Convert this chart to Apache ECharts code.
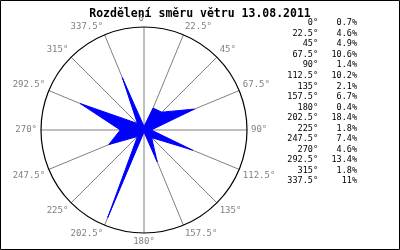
<!DOCTYPE html>
<html><head><meta charset="utf-8">
<script src="https://cdn.jsdelivr.net/npm/echarts@6/dist/echarts.min.js"></script>
<style>html,body{margin:0;padding:0;background:#fff}#c{width:400px;height:250px}</style>
</head><body><div id="c"></div>
<script>
var titleText = 'Rozdělení směru větru 13.08.2011';
var directions = [0, 22.5, 45, 67.5, 90, 112.5, 135, 157.5, 180, 202.5, 225, 247.5, 270, 292.5, 315, 337.5];
var percents = [0.7, 4.6, 4.9, 10.6, 1.4, 10.2, 2.1, 6.7, 0.4, 18.4, 1.8, 7.4, 4.6, 13.4, 1.8, 11];
var radiusMax = 20;

var chart = echarts.init(document.getElementById('c'), null, {renderer: 'canvas'});
var FONT = "'DejaVu Sans Mono', monospace";

var lineData = directions.map(function (d, i) { return [percents[i], d]; });
lineData.push([percents[0], 360]);

var graphics = [
  {type: 'rect', shape: {x: 0.5, y: 0.5, width: 399, height: 249}, style: {fill: null, stroke: '#000', lineWidth: 1}, z: 100}
];
directions.forEach(function (d, i) {
  var y = 23 + i * 10.55;
  graphics.push({type: 'text', x: 318, y: y, style: {text: d + '°', font: '8.5px ' + FONT, fill: '#000', align: 'right', verticalAlign: 'middle'}});
  graphics.push({type: 'text', x: 357, y: y, style: {text: percents[i] + '%', font: '8.5px ' + FONT, fill: '#000', align: 'right', verticalAlign: 'middle'}});
});

chart.setOption({
  animation: false,
  title: {text: titleText, left: 'center', top: 3,
    textStyle: {fontFamily: FONT, fontSize: 11.5, fontWeight: 'bold', color: '#000'}},
  polar: {center: [144, 130], radius: 103},
  angleAxis: {
    type: 'value', min: 0, max: 360, interval: 22.5, startAngle: 90, clockwise: true,
    axisLine: {show: true, lineStyle: {color: '#000', width: 1.2}},
    axisTick: {show: false},
    splitLine: {show: true, lineStyle: {color: '#808080', width: 1}},
    axisLabel: {show: true, margin: 4, color: '#808080', fontFamily: FONT, fontSize: 9,
      formatter: function (v) { return v >= 360 ? '' : v + '°'; }}
  },
  radiusAxis: {type: 'value', min: 0, max: radiusMax, show: false,
    axisLine: {show: false}, splitLine: {show: false}, axisLabel: {show: false}, axisTick: {show: false}},
  series: [{
    type: 'line', coordinateSystem: 'polar', data: lineData, symbol: 'none',
    lineStyle: {color: '#0000ff', width: 1}, areaStyle: {color: '#0000ff', opacity: 1}, z: 3
  }],
  graphic: graphics
});
</script></body></html>
